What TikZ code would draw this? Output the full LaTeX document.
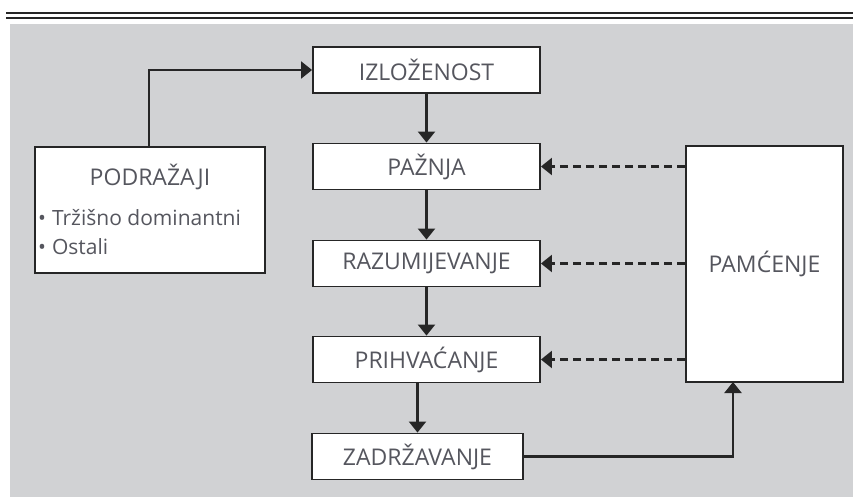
\documentclass[tikz,border=0pt]{standalone}
\usepackage{fontspec}
\setmainfont{Open Sans}
\usetikzlibrary{arrows.meta}

\definecolor{bggray}{HTML}{D1D2D4}
\definecolor{linegray}{HTML}{262626}
\definecolor{textgray}{HTML}{55565E}

\tikzset{
  stage/.style={draw=linegray,line width=1.9pt,fill=white,text=textgray,
    minimum width=227pt,minimum height=46pt,inner sep=0pt,font=\fontsize{23}{26}\selectfont},
  flow/.style={draw=linegray,line width=2.3pt,-{Triangle[length=11pt,width=17pt]}},
  recall/.style={flow,dash pattern=on 8pt off 5pt}
}

\begin{document}
\begin{tikzpicture}[x=1pt,y=-1pt]
\useasboundingbox (0,0) rectangle (853,503);
\fill[bggray] (10,24) rectangle (853,497);
\draw[linegray,line width=2pt] (6,13) -- (853,13);
\draw[linegray,line width=1.6pt] (6,18) -- (853,18);

\node[stage] (izl) at (426.5,70) {IZLOŽENOST};
\node[stage] (paz) at (426.5,166.5) {PAŽNJA};
\node[stage] (raz) at (426.5,263.5) {RAZUMIJEVANJE};
\node[stage] (pri) at (426.5,359.5) {PRIHVAĆANJE};
\node[stage,minimum width=211pt] (zad) at (417.5,456.5) {ZADRŽAVANJE};

\node[stage,minimum width=230pt,minimum height=126pt] (pod) at (150,210) {};
\node[text=textgray,font=\fontsize{23}{26}\selectfont] (podt) at (150,177) {PODRAŽAJI};
\node[text=textgray,font=\fontsize{21}{29}\selectfont,align=left,anchor=west,inner sep=0pt] (podl) at (38,232)
  {\textbullet\hspace{6pt}Tržišno dominantni\\\textbullet\hspace{6pt}Ostali};

\node[stage,minimum width=157pt,minimum height=236pt] (pam) at (764.5,264) {PAMĆENJE};

\coordinate (podtop) at (149,147);
\coordinate (pambot) at (733,382);

\draw[flow] (podtop) |- (izl.west);
\draw[flow] (izl) -- (paz);
\draw[flow] (paz) -- (raz);
\draw[flow] (raz) -- (pri);
\draw[flow] (pri.south -| zad.north) -- (zad);
\draw[flow] (zad.east) -| (pambot);

\draw[recall] (pam.west |- paz) -- (paz.east);
\draw[recall] (pam.west |- raz) -- (raz.east);
\draw[recall] (pam.west |- pri) -- (pri.east);

\end{tikzpicture}
\end{document}
